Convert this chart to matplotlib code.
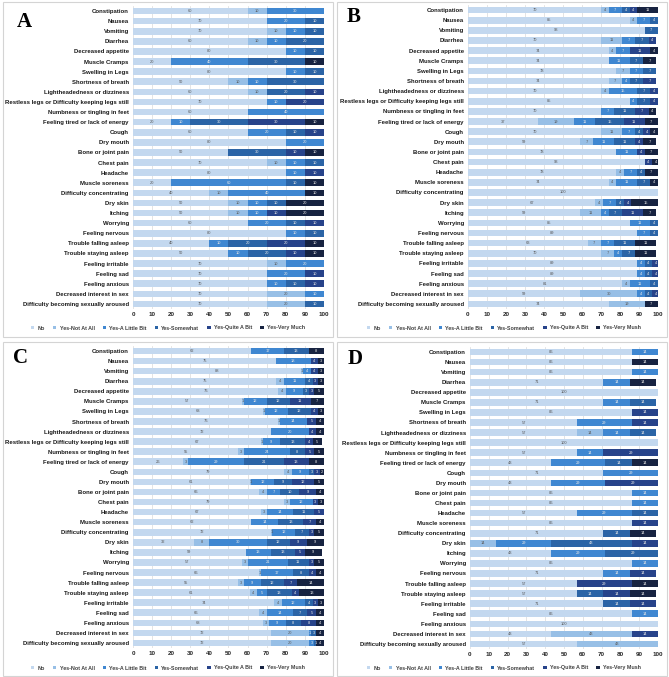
import matplotlib.pyplot as plt
import numpy as np
from matplotlib.patches import Rectangle

plt.rcParams['font.family'] = ['Liberation Sans', 'DejaVu Sans']

categories = [
    "Constipation", "Nausea", "Vomiting", "Diarrhea", "Decreased appetite",
    "Muscle Cramps", "Swelling in Legs", "Shortness of breath",
    "Lightheadedness or dizziness", "Restless legs or Difficulty keeping legs still",
    "Numbness or tingling in feet", "Feeling tired or lack of energy", "Cough",
    "Dry mouth", "Bone or joint pain", "Chest pain", "Headache", "Muscle soreness",
    "Difficulty concentrating", "Dry skin", "Itching", "Worrying", "Feeling nervous",
    "Trouble falling asleep", "Trouble staying asleep", "Feeling irritable",
    "Feeling sad", "Feeling anxious", "Decreased interest in sex",
    "Difficulty becoming sexually aroused",
]

levels_a = ["No", "Yes-Not At All", "Yes-A Little Bit", "Yes-Somewhat",
            "Yes-Quite A Bit", "Yes-Very Much"]
levels_bcd = ["No", "Yes-Not At All", "Yes-A Little Bit", "Yes-Somewhat",
              "Yes-Quite A Bit", "Yes-Very Mush"]

colors = ['#C3D8EF', '#97BFE6', '#3F87D1', '#2B64A6', '#27438A', '#172341']

# rows: No, Not At All, A Little Bit, Somewhat, Quite A Bit, Very Much
panel_a = [
    [60, 10, 30, 0, 0, 0], [70, 0, 20, 10, 0, 0], [70, 10, 10, 10, 0, 0],
    [60, 10, 10, 20, 0, 0], [80, 0, 10, 10, 0, 0], [20, 0, 40, 30, 0, 10],
    [80, 0, 10, 10, 0, 0], [50, 10, 10, 30, 0, 0], [60, 10, 0, 20, 10, 0],
    [70, 0, 10, 0, 20, 0], [60, 0, 40, 0, 0, 0], [20, 0, 10, 30, 30, 10],
    [60, 0, 20, 10, 10, 0], [80, 0, 20, 0, 0, 0], [50, 0, 0, 30, 10, 10],
    [70, 10, 10, 10, 0, 0], [80, 0, 10, 0, 10, 0], [20, 0, 60, 10, 0, 10],
    [40, 10, 40, 0, 0, 10], [50, 10, 10, 10, 0, 20], [50, 10, 10, 0, 10, 20],
    [60, 0, 20, 10, 10, 0], [80, 0, 10, 10, 0, 0], [40, 0, 10, 20, 20, 10],
    [50, 0, 10, 20, 10, 10], [70, 10, 20, 0, 0, 0], [70, 0, 20, 0, 10, 0],
    [70, 0, 10, 10, 10, 0], [70, 20, 10, 0, 0, 0], [70, 20, 0, 10, 0, 0],
]

panel_b = [
    [70, 4, 7, 4, 4, 11], [85, 4, 7, 4, 0, 0], [93, 0, 0, 7, 0, 0],
    [70, 11, 7, 7, 4, 0], [74, 4, 7, 0, 11, 4], [74, 0, 11, 7, 0, 7],
    [78, 7, 7, 7, 0, 0], [74, 7, 4, 7, 7, 0], [70, 4, 15, 7, 4, 0],
    [85, 0, 4, 7, 4, 0], [70, 0, 7, 11, 7, 4], [37, 19, 11, 15, 11, 7],
    [70, 11, 7, 4, 4, 4], [59, 7, 11, 11, 4, 7], [78, 0, 11, 0, 4, 7],
    [93, 0, 0, 0, 4, 4], [78, 4, 7, 4, 0, 7], [74, 4, 11, 7, 0, 4],
    [100, 0, 0, 0, 0, 0], [67, 4, 7, 4, 4, 15], [59, 11, 4, 7, 11, 7],
    [85, 0, 11, 4, 0, 0], [89, 0, 7, 4, 0, 0], [63, 7, 7, 11, 0, 11],
    [70, 7, 4, 7, 0, 11], [89, 0, 4, 4, 4, 0], [89, 0, 4, 4, 4, 0],
    [81, 4, 11, 4, 0, 0], [59, 30, 4, 4, 4, 0], [74, 19, 0, 0, 0, 7],
]

panel_c = [
    [62, 0, 17, 13, 0, 8], [75, 0, 18, 0, 4, 3], [88, 1, 4, 0, 4, 3],
    [75, 4, 11, 4, 3, 3], [76, 4, 9, 3, 3, 5], [57, 1, 12, 12, 11, 7],
    [68, 1, 12, 12, 4, 3], [76, 1, 14, 0, 5, 4], [72, 0, 20, 0, 4, 4],
    [67, 1, 9, 13, 4, 5], [55, 3, 24, 8, 5, 5], [26, 3, 29, 21, 13, 8],
    [79, 4, 9, 3, 3, 2], [61, 1, 12, 9, 12, 5], [66, 4, 7, 10, 9, 4],
    [79, 3, 12, 0, 3, 3], [67, 3, 14, 11, 5, 0], [62, 0, 14, 13, 7, 4],
    [72, 1, 12, 7, 3, 5], [32, 8, 30, 12, 9, 9], [59, 0, 13, 13, 5, 9],
    [57, 3, 21, 11, 3, 5], [66, 1, 17, 8, 4, 4], [55, 3, 9, 12, 7, 14],
    [61, 4, 5, 13, 4, 13], [74, 4, 12, 4, 3, 3], [66, 4, 14, 7, 5, 4],
    [68, 3, 9, 8, 8, 4], [72, 20, 1, 3, 0, 4], [72, 20, 3, 1, 0, 4],
]

panel_d = [
    [86, 0, 14, 0, 0, 0], [86, 0, 0, 0, 0, 14], [86, 0, 14, 0, 0, 0],
    [71, 0, 14, 0, 0, 14], [100, 0, 0, 0, 0, 0], [71, 0, 14, 14, 0, 0],
    [86, 0, 0, 0, 14, 0], [57, 0, 29, 0, 14, 0], [57, 14, 14, 14, 0, 0],
    [100, 0, 0, 0, 0, 0], [57, 0, 14, 0, 29, 0], [43, 0, 29, 14, 0, 14],
    [71, 0, 29, 0, 0, 0], [43, 0, 29, 0, 29, 0], [86, 0, 14, 0, 0, 0],
    [86, 0, 14, 0, 0, 0], [57, 0, 29, 14, 0, 0], [86, 0, 0, 0, 14, 0],
    [71, 0, 0, 14, 0, 14], [0, 14, 29, 43, 14, 0], [43, 0, 29, 29, 0, 0],
    [86, 0, 14, 0, 0, 0], [71, 0, 14, 0, 14, 0], [57, 0, 0, 0, 29, 14],
    [57, 0, 0, 14, 14, 14], [71, 0, 0, 14, 14, 0], [86, 0, 14, 0, 0, 0],
    [100, 0, 0, 0, 0, 0], [43, 43, 0, 0, 14, 0], [57, 43, 0, 0, 0, 0],
]

W, H = 669, 677
fig = plt.figure(figsize=(W / 100, H / 100), dpi=100)


def fx(px):
    return px / W


def fy(py):
    return 1 - py / H


def draw_panel(data, levels, letter, ax_px, box_px, letter_px, legend_px):
    # ax_px: (left, top, right, bottom) in pixels
    l, t, r, b = ax_px
    ax = fig.add_axes([fx(l), fy(b), fx(r - l), (b - t) / H])
    vals = np.array(data, dtype=float)
    y = np.arange(len(categories))
    left = np.zeros(len(categories))
    for j in range(6):
        ax.barh(y, vals[:, j], left=left, height=0.66, color=colors[j],
                label=levels[j], zorder=2)
        for k in range(len(categories)):
            v = vals[k, j]
            if v > 0:
                ax.text(left[k] + v / 2, y[k], f"{v:g}", ha='center', va='center',
                        fontsize=2.9, color='#595959' if j < 2 else '#E6E6E6',
                        zorder=3)
        left += vals[:, j]
    ax.set_xlim(0, 100)
    ax.set_ylim(len(categories) - 0.5, -0.5)
    ax.set_xticks(np.arange(0, 101, 10))
    ax.set_yticks(y)
    ax.set_yticklabels(categories, fontsize=4.3, fontweight='bold', color='#1A1A1A')
    ax.tick_params(axis='x', labelsize=4.5, length=0, pad=2, labelcolor='#262626')
    ax.tick_params(axis='y', length=0, pad=3)
    for lab in ax.get_xticklabels():
        lab.set_fontweight('bold')
    ax.grid(axis='x', color='#D9D9D9', linewidth=0.5, zorder=0)
    ax.set_axisbelow(True)
    for s in ax.spines.values():
        s.set_visible(False)

    bx0, by0, bx1, by1 = box_px
    fig.patches.append(Rectangle((fx(bx0), fy(by1)), (bx1 - bx0) / W, (by1 - by0) / H,
                                 transform=fig.transFigure, fill=False,
                                 edgecolor='#D4D4D4', linewidth=0.8))
    fig.text(fx(letter_px[0]), fy(letter_px[1]), letter, fontsize=15,
             fontweight='bold', family='Liberation Serif', va='baseline')
    ax.legend(loc='center', bbox_to_anchor=(fx(legend_px[0]), fy(legend_px[1])),
              bbox_transform=fig.transFigure, ncol=6, frameon=False,
              handlelength=0.6, handleheight=0.6,
              handletextpad=0.6, columnspacing=1.5, labelcolor='#404040',
              prop={'weight': 'bold', 'size': 3.9})


draw_panel(panel_a, levels_a, 'A', (133, 6, 324, 309), (3, 2, 333, 337), (17, 27), (168, 328))
draw_panel(panel_b, levels_bcd, 'B', (468, 5, 658, 309), (337, 2, 667, 337), (347, 22), (504, 328))
draw_panel(panel_c, levels_bcd, 'C', (133, 346, 324, 648), (3, 342, 333, 676), (13, 363), (168, 668))
draw_panel(panel_d, levels_bcd, 'D', (470, 347, 658, 649), (337, 342, 667, 676), (348, 364), (504, 668))

fig.savefig('out.png', dpi=100)
